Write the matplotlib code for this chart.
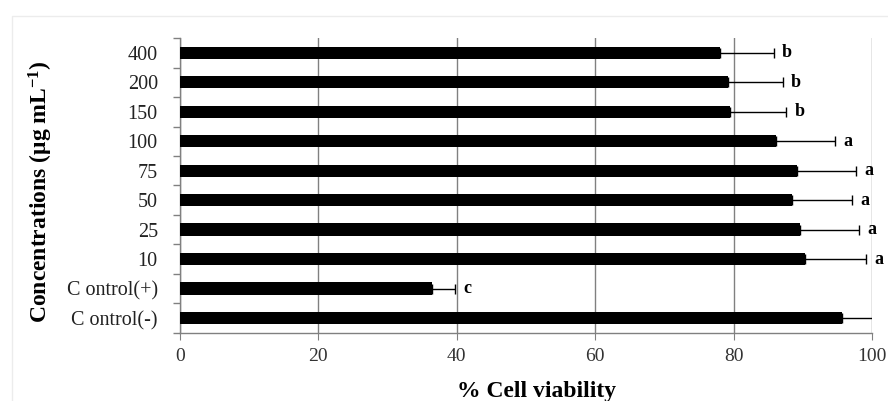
import numpy as np
import matplotlib.pyplot as plt
from matplotlib.patches import Rectangle

plt.rcParams['font.family'] = ['Liberation Serif', 'DejaVu Serif']
plt.rcParams['mathtext.fontset'] = 'custom'
plt.rcParams['mathtext.rm'] = 'Liberation Serif:bold'
plt.rcParams['mathtext.it'] = 'Liberation Serif:bold'
plt.rcParams['mathtext.bf'] = 'Liberation Serif:bold'

# data, top to bottom as drawn
labels = ["400", "200", "150", "100", "75", "50", "25", "10", "C ontrol(+)", "C ontrol(-)"]
viability = [78.0, 79.2, 79.5, 86.1, 89.2, 88.4, 89.6, 90.3, 36.4, 95.7]
err = [7.8, 7.9, 8.1, 8.5, 8.5, 8.7, 8.5, 8.8, 3.3, 8.5]
letters = ["b", "b", "b", "a", "a", "a", "a", "a", "c", "a"]

fig = plt.figure(figsize=(8.88, 4.01), dpi=100)
# faint outer chart border
fig.patches.append(Rectangle((0.0135, -0.05), 1.1, 1.01, transform=fig.transFigure,
                             fill=False, edgecolor="#ececec", linewidth=1))
ax = fig.add_axes([0.2027, 0.170, 0.7793, 0.735])

y = np.arange(len(labels))[::-1]
ax.barh(y, viability, height=0.42, color="black", zorder=3)
ax.errorbar(viability, y, xerr=[np.zeros(len(err)), err], fmt="none",
            ecolor="black", elinewidth=1, capsize=3.5, capthick=1, zorder=4)

# significance letters
for yi, v, e, s in zip(y, viability, err, letters):
    ax.text(v + e + 1.2, yi, s, va="center", ha="left", fontsize=13,
            fontweight="bold", clip_on=False)

ax.set_xlim(0, 100)
ax.set_ylim(-0.5, len(labels) - 0.5)
ax.set_xticks([0, 20, 40, 60, 80, 100])
ax.set_yticks(y)
ax.set_yticklabels(labels)
ax.set_yticks(np.arange(-0.5, len(labels), 1), minor=True)
ax.tick_params(axis="y", which="major", length=0, pad=16, labelsize=14.5, labelcolor="#222222")
ax.tick_params(axis="y", which="minor", length=5, color="#808080", width=1)
ax.tick_params(axis="x", length=5, color="#808080", labelsize=14, pad=6, labelcolor="#333333")

ax.grid(axis="x", color="#808080", linewidth=1, zorder=0)
for side in ["top", "right"]:
    ax.spines[side].set_visible(False)
for side in ["left", "bottom"]:
    ax.spines[side].set_color("#808080")
    ax.spines[side].set_linewidth(1)

ax.set_xlabel("% Cell viability", fontsize=17, fontweight="bold")
ax.set_ylabel(r"Concentrations ($\mu$g mL$^{-1}$)", fontsize=17, fontweight="bold")
ax.xaxis.set_label_coords(0.515, -0.163)
ax.yaxis.set_label_coords(-0.181, 0.478)

fig.savefig("out.png", dpi=100)
